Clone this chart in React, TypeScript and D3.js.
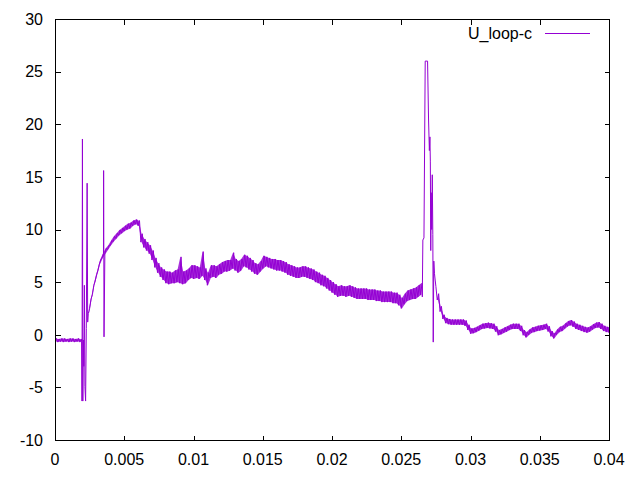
import React from "react";
import * as d3 from "d3";

// Sampling clock of the decimated trace (s)
const sampleStep = 0.0002;

// Lower / upper envelope of each sample bucket (V). null = covered by spike trace.
const bandLow: (number | null)[] = [
  -0.65, -0.7, -0.65, -0.7, -0.65, -0.7, -0.65, -0.7, -0.65, -0.7,
  null, null,
  2.0, 3.4, 4.7, 5.7, 6.7, 7.3, 7.7, 8.1, 8.5, 8.85, 9.15, 9.45, 9.65, 9.85, 10.0, 10.1, 10.35, 10.5,
  10.35, 8.8, 8.3, 8.0, 7.7, 7.1, 6.4, 5.9, 5.5, 5.2, 4.9, 4.8, 4.9, 4.9, 5.0, 4.9, 4.8, 4.9, 5.2, 5.4,
  5.3, 5.4, 5.3, 5.6, 5.2, 4.7, 5.4, 5.5, 5.4, 5.7, 5.8, 6.0, 6.0, 6.1, 6.3, 6.1, 5.9, 6.1, 6.5, 6.4,
  6.2, 6.0, 5.8, 5.7, 6.0, 6.3, 6.5, 6.4, 6.3, 6.2, 6.1, 6.1, 6.0, 5.9, 5.7, 5.6, 5.5, 5.4, 5.4, 5.5,
  5.5, 5.4, 5.3, 5.2, 5.0, 4.9, 4.7, 4.6, 4.4, 4.2, 4.0, 3.8, 3.6, 3.7, 3.7, 3.6, 3.7, 3.6, 3.5, 3.4,
  3.4, 3.4, 3.4, 3.3, 3.3, 3.3, 3.2, 3.2, 3.1, 3.1, 3.1, 3.1, 3.0, 3.0, 2.8, 2.5, 2.9, 3.2, 3.3, 3.4,
  3.4, 3.6, 3.8, null, null, null, null, null,
  3.3, 2.2, 1.5, 1.1, 1.0, 0.95, 0.95, 0.95, 0.95, 0.95, 0.85, 0.45,
  0.1, 0.15, 0.25, 0.4, 0.55, 0.6, 0.65, 0.6, 0.55, 0.3, -0.05, 0.05, 0.2, 0.3, 0.45, 0.55, 0.55, 0.55, 0.35, -0.05,
  -0.25, 0.0, 0.2, 0.25, 0.35, 0.4, 0.45, 0.55, 0.3, -0.15, -0.35, 0.0, 0.25, 0.35, 0.6, 0.8, 0.9, 0.75, 0.55, 0.45,
  0.35, 0.25, 0.2, 0.3, 0.5, 0.65, 0.7, 0.55, 0.35, 0.25, 0.2,
];

const bandHigh: (number | null)[] = [
  -0.35, -0.4, -0.35, -0.35, -0.4, -0.35, -0.35, -0.4, -0.35, -0.4,
  null, null,
  2.5, 3.8, 5.1, 6.1, 7.1, 7.7, 8.2, 8.5, 8.95, 9.35, 9.65, 9.95, 10.15, 10.35, 10.55, 10.65, 10.85, 10.95,
  10.85, 9.6, 9.1, 8.8, 8.5, 8.0, 7.3, 6.8, 6.4, 6.2, 6.0, 6.0, 5.9, 6.1, 6.2, 7.4, 6.0, 6.1, 6.3, 6.6,
  6.6, 6.5, 6.4, 7.9, 6.3, 5.9, 6.6, 6.6, 6.5, 6.7, 6.9, 7.0, 7.1, 7.1, 7.8, 7.2, 7.0, 7.2, 7.6, 7.5,
  7.3, 7.1, 6.8, 6.7, 7.0, 7.5, 7.4, 7.3, 7.2, 7.2, 7.1, 7.1, 7.0, 6.9, 6.7, 6.6, 6.5, 6.4, 6.4, 6.5,
  6.5, 6.4, 6.3, 6.2, 6.0, 5.9, 5.7, 5.6, 5.4, 5.2, 5.0, 4.8, 4.6, 4.7, 4.6, 4.6, 4.7, 4.6, 4.5, 4.4,
  4.4, 4.4, 4.4, 4.3, 4.3, 4.3, 4.2, 4.2, 4.1, 4.1, 4.1, 4.1, 4.0, 4.0, 3.8, 3.5, 3.9, 4.2, 4.3, 4.4,
  4.5, 4.7, 4.9, null, null, null, null, null,
  3.9, 2.7, 1.9, 1.6, 1.5, 1.45, 1.45, 1.45, 1.45, 1.45, 1.35, 0.95,
  0.6, 0.65, 0.75, 0.9, 1.05, 1.1, 1.15, 1.1, 1.05, 0.8, 0.45, 0.55, 0.7, 0.8, 0.95, 1.05, 1.05, 1.05, 0.85, 0.45,
  0.25, 0.5, 0.7, 0.75, 0.85, 0.9, 0.95, 1.05, 0.8, 0.35, 0.15, 0.5, 0.75, 0.85, 1.1, 1.3, 1.4, 1.25, 1.05, 0.95,
  0.85, 0.75, 0.7, 0.8, 1.0, 1.15, 1.2, 1.05, 0.85, 0.75, 0.7,
];

// Individual transient samples (s, V)
const spikeTime = [
  0.00192, 0.00195, 0.00198, 0.00201, 0.00205, 0.00208, 0.00212, 0.00216, 0.00221, 0.00226, 0.00232, 0.00236,
  0.00351, 0.00354,
  0.02652, 0.02656, 0.02664, 0.02673, 0.0269, 0.02697, 0.02703, 0.02707, 0.0271, 0.02713, 0.02716, 0.0272,
  0.02724, 0.02728, 0.02731, 0.02735, 0.0274, 0.02745, 0.0275,
];
const spikeVolt = [
  -0.6, -6.3, 18.6, -6.3, -0.5, -3.0, 4.7, -4.9, -6.3, 0.6, 14.4, 1.2,
  15.6, -0.2,
  3.6, 9.0, 9.2, 26.0, 26.0, 20.5, 17.5, 18.8, 16.5, 8.0, 13.5, 10.0,
  15.2, 9.5, -0.7, 7.0, 5.8, 5.2, 4.6,
];

const xTicks = [0, 0.005, 0.01, 0.015, 0.02, 0.025, 0.03, 0.035, 0.04];
const xTickLabels = ["0", "0.005", "0.01", "0.015", "0.02", "0.025", "0.03", "0.035", "0.04"];
const yTicks = [-10, -5, 0, 5, 10, 15, 20, 25, 30];
const yTickLabels = ["-10", "-5", "0", "5", "10", "15", "20", "25", "30"];
const seriesName = "U_loop-c";

const W = 640, H = 480;
const left = 55, right = 609, top = 19, bottom = 440;
const color = "#9400d3";
const font = "'Liberation Sans', Arial, sans-serif";

type Pt = { t: number; v: number };
type Band = { t: number; lo: number | null; hi: number | null };

export default function App() {
  const x = d3.scaleLinear().domain([0, 0.04]).range([left, right]);
  const y = d3.scaleLinear().domain([-10, 30]).range([bottom, top]);

  const pts: Pt[] = [];
  const band: Band[] = bandLow.map((lo, i) => ({ t: i * sampleStep + sampleStep / 4, lo, hi: bandHigh[i] }));
  bandLow.forEach((lo, i) => {
    const hi = bandHigh[i];
    if (lo == null || hi == null) return;
    pts.push({ t: i * sampleStep, v: lo });
    pts.push({ t: i * sampleStep + sampleStep / 2, v: hi });
  });
  spikeTime.forEach((t, i) => pts.push({ t, v: spikeVolt[i] }));
  pts.sort((a, b) => a.t - b.t);

  const line = d3
    .line<Pt>()
    .x((d) => x(d.t))
    .y((d) => y(d.v));

  const area = d3
    .area<Band>()
    .defined((d) => d.lo != null && d.hi != null)
    .x((d) => x(d.t))
    .y0((d) => y(d.lo as number))
    .y1((d) => y(d.hi as number));

  const tl = 5;
  return (
    <svg
      width={W}
      height={H}
      style={{ position: "fixed", left: 0, top: 0, background: "#fff" }}
      fontFamily={font}
    >
      <rect x={0} y={0} width={W} height={H} fill="#fff" />
      <defs>
        <clipPath id="plotclip">
          <rect x={left} y={top} width={right - left} height={bottom - top} />
        </clipPath>
      </defs>
      <g shapeRendering="crispEdges" stroke="#000" strokeWidth={1}>
        {xTicks.map((t, i) => (
          <g key={"xt" + i}>
            <line x1={Math.round(x(t)) + 0.5} x2={Math.round(x(t)) + 0.5} y1={bottom + 0.5} y2={bottom + 0.5 - tl} />
            <line x1={Math.round(x(t)) + 0.5} x2={Math.round(x(t)) + 0.5} y1={top + 0.5} y2={top + 0.5 + tl} />
          </g>
        ))}
        {yTicks.map((v, i) => (
          <g key={"yt" + i}>
            <line x1={left + 0.5} x2={left + 0.5 + tl} y1={Math.round(y(v)) + 0.5} y2={Math.round(y(v)) + 0.5} />
            <line x1={right + 0.5} x2={right + 0.5 - tl} y1={Math.round(y(v)) + 0.5} y2={Math.round(y(v)) + 0.5} />
          </g>
        ))}
      </g>
      <g fontSize={16} fill="#000">
        {xTicks.map((t, i) => (
          <text key={"xl" + i} x={x(t)} y={465} textAnchor="middle">
            {xTickLabels[i]}
          </text>
        ))}
        {yTicks.map((v, i) => (
          <text key={"yl" + i} x={43} y={y(v) + 5.8} textAnchor="end">
            {yTickLabels[i]}
          </text>
        ))}
      </g>
      <g clipPath="url(#plotclip)">
        <path d={area(band) || ""} fill={color} fillOpacity={0.8} stroke="none" />
        <path d={line(pts) || ""} fill="none" stroke={color} strokeWidth={1} />
      </g>
      <text x={532} y={38.5} fontSize={16} textAnchor="end" fill="#000">
        {seriesName}
      </text>
      <line x1={545} x2={590} y1={33.5} y2={33.5} stroke={color} strokeWidth={1} />
      <rect
        x={left + 0.5}
        y={top + 0.5}
        width={right - left}
        height={bottom - top}
        fill="none"
        stroke="#000"
        strokeWidth={1}
        shapeRendering="crispEdges"
      />
    </svg>
  );
}
